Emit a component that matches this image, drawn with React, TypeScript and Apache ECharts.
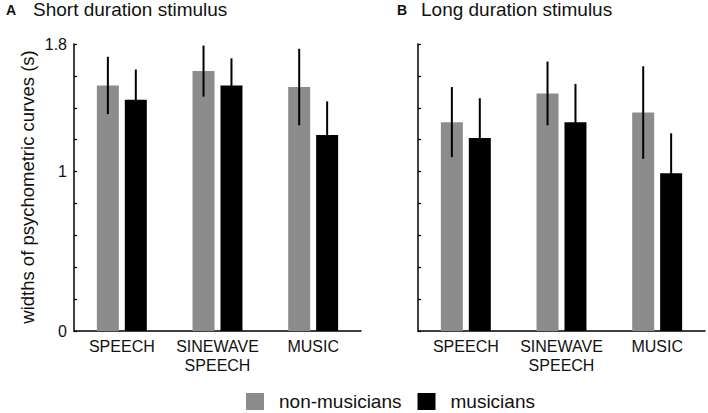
import React, { useEffect, useRef } from "react";
import * as echarts from "echarts";

const categories = ["SPEECH", "SINEWAVE\nSPEECH", "MUSIC"];
const shortNonMusicians = [1.54, 1.63, 1.53];
const shortNonMusiciansErr = [0.18, 0.16, 0.24];
const shortMusicians = [1.45, 1.54, 1.23];
const shortMusiciansErr = [0.19, 0.17, 0.21];
const longNonMusicians = [1.31, 1.49, 1.37];
const longNonMusiciansErr = [0.22, 0.2, 0.29];
const longMusicians = [1.21, 1.31, 0.99];
const longMusiciansErr = [0.25, 0.24, 0.25];
const yTickLabels = ["0", "1", "1.8"];

const FONT = "'Liberation Sans', Arial, sans-serif";
const GRAY = "#8c8c8c";

const BAR_W = 0.23;
const BAR_GAP = 0.27;
const OFFSET = (BAR_W + BAR_W * BAR_GAP) / 2;

function errSeries(gridIdx: number, vals: number[], errs: number[], side: number) {
  return {
    type: "custom",
    xAxisIndex: gridIdx,
    yAxisIndex: gridIdx,
    z: 5,
    silent: true,
    data: vals.map((v, i) => [i, v, errs[i]]),
    encode: { x: 0, y: 1 },
    renderItem: (params: any, api: any) => {
      const i = api.value(0);
      const v = api.value(1);
      const e = api.value(2);
      const band = api.size([1, 0])[0];
      const top = api.coord([i, v + e]);
      const bot = api.coord([i, v - e]);
      const x = top[0] + side * OFFSET * band;
      return {
        type: "line",
        shape: { x1: x, y1: top[1], x2: x, y2: bot[1] },
        style: { stroke: "#000", lineWidth: 2 },
      };
    },
  };
}

export default function App() {
  const ref = useRef<HTMLDivElement>(null);
  useEffect(() => {
    if (!ref.current) return;
    const chart = echarts.init(ref.current, null, { renderer: "svg" });
    const yAxis = (idx: number, showLabels: boolean) => ({
      type: "value",
      gridIndex: idx,
      min: 0,
      max: 1.8,
      interval: 0.2,
      splitLine: { show: false },
      axisLine: { show: true, lineStyle: { color: "#000", width: 1.5 } },
      axisTick: { show: true, inside: true, length: 3, lineStyle: { color: "#000", width: 1.2 } },
      axisLabel: {
        show: showLabels,
        margin: 7,
        fontSize: 16,
        fontFamily: FONT,
        color: "#111",
        formatter: (v: number) => {
          if (Math.abs(v) < 1e-6) return yTickLabels[0];
          if (Math.abs(v - 1) < 1e-6) return yTickLabels[1];
          if (Math.abs(v - 1.8) < 1e-6) return yTickLabels[2];
          return "";
        },
      },
    });
    const xAxis = (idx: number) => ({
      type: "category",
      gridIndex: idx,
      data: categories,
      axisLine: { show: true, lineStyle: { color: "#000", width: 1.5 } },
      axisTick: { show: false },
      axisLabel: {
        interval: 0,
        margin: 6,
        fontSize: 16,
        lineHeight: 19,
        fontFamily: FONT,
        color: "#111",
      },
    });
    const bar = (idx: number, name: string, data: number[], color: string) => ({
      type: "bar",
      name,
      xAxisIndex: idx,
      yAxisIndex: idx,
      data,
      barWidth: BAR_W * 100 + "%",
      barGap: BAR_GAP * 100 + "%",
      itemStyle: { color },
      z: 2,
    });
    chart.setOption({
      animation: false,
      textStyle: { fontFamily: FONT },
      grid: [
        { left: 74, top: 44, width: 287, height: 287 },
        { left: 418, top: 44, width: 287, height: 287 },
      ],
      xAxis: [xAxis(0), xAxis(1)],
      yAxis: [yAxis(0, true), yAxis(1, false)],
      legend: {
        data: ["non-musicians", "musicians"],
        left: 241,
        top: 387,
        itemWidth: 18,
        itemHeight: 17,
        itemGap: 16,
        icon: "rect",
        textStyle: {
          fontSize: 19,
          lineHeight: 17,
          fontFamily: FONT,
          color: "#111",
          padding: [0, 0, 0, 10],
        },
      },
      graphic: [
        { type: "text", left: 6, top: 3, style: { text: "A", font: `bold 14px ${FONT}`, fill: "#111" } },
        { type: "text", left: 33, top: 0, style: { text: "Short duration stimulus", font: `19px ${FONT}`, fill: "#111" } },
        { type: "text", left: 397, top: 3, style: { text: "B", font: `bold 14px ${FONT}`, fill: "#111" } },
        { type: "text", left: 421, top: 0, style: { text: "Long duration stimulus", font: `19px ${FONT}`, fill: "#111" } },
        {
          type: "text",
          x: 27,
          y: 187,
          rotation: Math.PI / 2,
          style: {
            text: "widths of psychometric curves (s)",
            font: `18.5px ${FONT}`,
            fill: "#111",
            align: "center",
            verticalAlign: "middle",
          },
        },
      ],
      series: [
        bar(0, "non-musicians", shortNonMusicians, GRAY),
        bar(0, "musicians", shortMusicians, "#000"),
        bar(1, "non-musicians", longNonMusicians, GRAY),
        bar(1, "musicians", longMusicians, "#000"),
        errSeries(0, shortNonMusicians, shortNonMusiciansErr, -1),
        errSeries(0, shortMusicians, shortMusiciansErr, 1),
        errSeries(1, longNonMusicians, longNonMusiciansErr, -1),
        errSeries(1, longMusicians, longMusiciansErr, 1),
      ],
    });
    return () => chart.dispose();
  }, []);
  return <div ref={ref} style={{ width: 708, height: 413, position: "absolute", left: 0, top: 0 }} />;
}
